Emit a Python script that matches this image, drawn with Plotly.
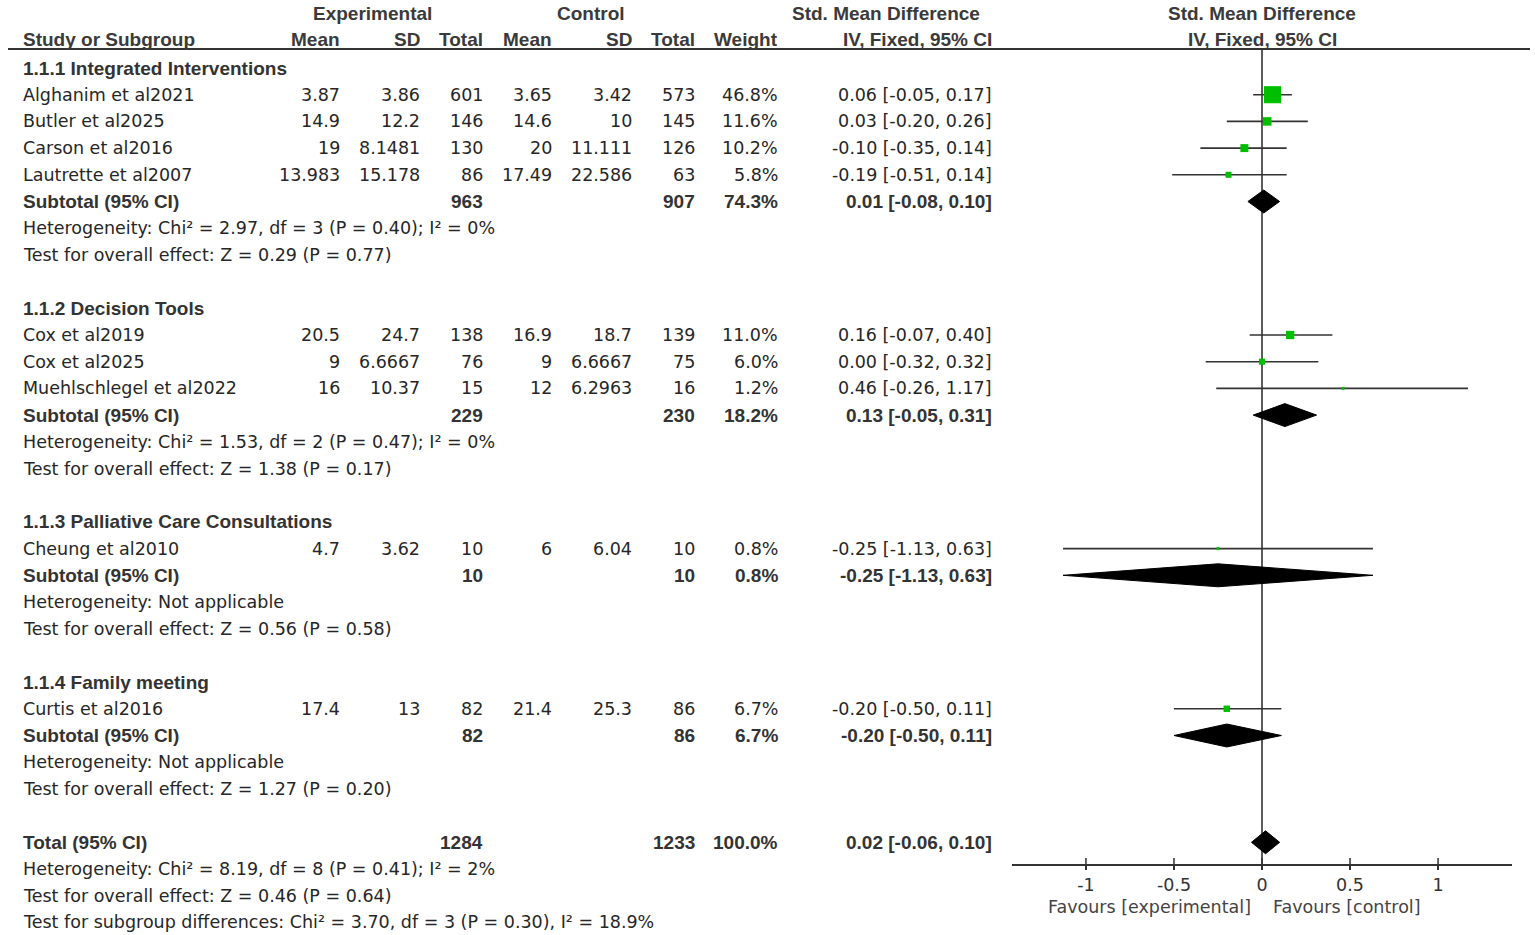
import math
import plotly.graph_objects as go

# ---------------- data ----------------
group_names = ["1.1.1 Integrated Interventions", "1.1.2 Decision Tools",
               "1.1.3 Palliative Care Consultations", "1.1.4 Family meeting"]
study_group = [0, 0, 0, 0, 1, 1, 1, 2, 3]
studies = ["Alghanim et al2021", "Butler et al2025", "Carson et al2016", "Lautrette et al2007",
           "Cox et al2019", "Cox et al2025", "Muehlschlegel et al2022",
           "Cheung et al2010", "Curtis et al2016"]
exp_mean = [3.87, 14.9, 19, 13.983, 20.5, 9, 16, 4.7, 17.4]
exp_sd = [3.86, 12.2, 8.1481, 15.178, 24.7, 6.6667, 10.37, 3.62, 13]
exp_n = [601, 146, 130, 86, 138, 76, 15, 10, 82]
ctl_mean = [3.65, 14.6, 20, 17.49, 16.9, 9, 12, 6, 21.4]
ctl_sd = [3.42, 10, 11.111, 22.586, 18.7, 6.6667, 6.2963, 6.04, 25.3]
ctl_n = [573, 145, 126, 63, 139, 75, 16, 10, 86]
weight = [46.8, 11.6, 10.2, 5.8, 11.0, 6.0, 1.2, 0.8, 6.7]
smd = [0.06, 0.03, -0.10, -0.19, 0.16, 0.00, 0.46, -0.25, -0.20]
ci_lo = [-0.05, -0.20, -0.35, -0.51, -0.07, -0.32, -0.26, -1.13, -0.50]
ci_hi = [0.17, 0.26, 0.14, 0.14, 0.40, 0.32, 1.17, 0.63, 0.11]

sub_exp_n = [963, 229, 10, 82]
sub_ctl_n = [907, 230, 10, 86]
sub_weight = [74.3, 18.2, 0.8, 6.7]
sub_smd = [0.01, 0.13, -0.25, -0.20]
sub_lo = [-0.08, -0.05, -1.13, -0.50]
sub_hi = [0.10, 0.31, 0.63, 0.11]
sub_het = ["Heterogeneity: Chi² = 2.97, df = 3 (P = 0.40); I² = 0%",
           "Heterogeneity: Chi² = 1.53, df = 2 (P = 0.47); I² = 0%",
           "Heterogeneity: Not applicable",
           "Heterogeneity: Not applicable"]
sub_test = ["Test for overall effect: Z = 0.29 (P = 0.77)",
            "Test for overall effect: Z = 1.38 (P = 0.17)",
            "Test for overall effect: Z = 0.56 (P = 0.58)",
            "Test for overall effect: Z = 1.27 (P = 0.20)"]

total_exp_n = 1284
total_ctl_n = 1233
total_weight = 100.0
total_smd = 0.02
total_lo = -0.06
total_hi = 0.10
total_notes = ["Heterogeneity: Chi² = 8.19, df = 8 (P = 0.41); I² = 2%",
               "Test for overall effect: Z = 0.46 (P = 0.64)",
               "Test for subgroup differences: Chi² = 3.70, df = 3 (P = 0.30), I² = 18.9%"]

tick_vals = [-1, -0.5, 0, 0.5, 1]
tick_text = ["-1", "-0.5", "0", "0.5", "1"]
favours_left = "Favours [experimental]"
favours_right = "Favours [control]"

# ---------------- layout constants ----------------
W, H = 1535, 935
ROW0_PX, PITCH = 68.0, 26.7          # pixel centre of row 0 and row pitch
AXIS_PX = 865.0                       # pixel y of the bottom axis line
HEADER_LINE_PX = 49.0
X_LEFT_PX, X_RIGHT_PX = 1012.0, 1512.0
XMIN, XMAX = -1.42, 1.42

def px_to_row(py):
    return (py - ROW0_PX) / PITCH

def pxx(px):
    return px / W

REG = dict(family="DejaVu Sans", size=17.5, color="#262626")
BOLD = dict(family="Liberation Sans", size=19, color="#333333", weight="bold")
BOLD_HDR = dict(family="Liberation Sans", size=19, color="#3a3a3a", weight="bold")

# column right edges (px)
C_NAME = 22
C_EMEAN, C_ESD, C_EN = 341, 421, 484
C_CMEAN, C_CSD, C_CN = 553, 633, 696
C_W, C_CI = 779, 993

annotations = []

def txt(x_px, row, text, font, anchor="right"):
    annotations.append(dict(x=pxx(x_px), xref="paper", y=row, yref="y", text=text,
                            showarrow=False, xanchor=anchor, yanchor="middle",
                            font=font, borderpad=0))

def ci_str(m, lo, hi):
    return f"{m:.2f} [{lo:.2f}, {hi:.2f}]"

# headers
txt(372.5, -2.05, "Experimental", BOLD_HDR, "center")
txt(590.5, -2.05, "Control", BOLD_HDR, "center")
txt(886, -2.05, "Std. Mean Difference", BOLD_HDR, "center")
txt(C_NAME, -1.05, "Study or Subgroup", BOLD_HDR, "left")
for xp, t in [(C_EMEAN, "Mean"), (C_ESD, "SD"), (C_EN, "Total"), (C_CMEAN, "Mean"),
              (C_CSD, "SD"), (C_CN, "Total"), (C_W, "Weight"), (C_CI, "IV, Fixed, 95% CI")]:
    txt(xp, -1.05, t, BOLD_HDR, "right")
annotations.append(dict(x=0, xref="x", y=-2.05, yref="y", text="Std. Mean Difference",
                        showarrow=False, xanchor="center", yanchor="middle", font=BOLD_HDR))
annotations.append(dict(x=0, xref="x", y=-1.05, yref="y", text="IV, Fixed, 95% CI",
                        showarrow=False, xanchor="center", yanchor="middle", font=BOLD_HDR))

# body rows
study_rows = []
sub_rows = []
row = 0
for g, gname in enumerate(group_names):
    txt(C_NAME, row, gname, BOLD, "left")
    row += 1
    for i, s in enumerate(studies):
        if study_group[i] != g:
            continue
        txt(C_NAME, row, s, REG, "left")
        txt(C_EMEAN, row, str(exp_mean[i]), REG)
        txt(C_ESD, row, str(exp_sd[i]), REG)
        txt(C_EN, row, str(exp_n[i]), REG)
        txt(C_CMEAN, row, str(ctl_mean[i]), REG)
        txt(C_CSD, row, str(ctl_sd[i]), REG)
        txt(C_CN, row, str(ctl_n[i]), REG)
        txt(C_W, row, f"{weight[i]:.1f}%", REG)
        txt(C_CI, row, ci_str(smd[i], ci_lo[i], ci_hi[i]), REG)
        study_rows.append(row)
        row += 1
    txt(C_NAME, row, "Subtotal (95% CI)", BOLD, "left")
    txt(C_EN, row, str(sub_exp_n[g]), BOLD)
    txt(C_CN, row, str(sub_ctl_n[g]), BOLD)
    txt(C_W, row, f"{sub_weight[g]:.1f}%", BOLD)
    txt(C_CI, row, ci_str(sub_smd[g], sub_lo[g], sub_hi[g]), BOLD)
    sub_rows.append(row)
    row += 1
    txt(C_NAME, row, sub_het[g], REG, "left"); row += 1
    txt(C_NAME, row, sub_test[g], REG, "left"); row += 1
    row += 1  # blank

total_row = row
txt(C_NAME, total_row, "Total (95% CI)", BOLD, "left")
txt(C_EN, total_row, str(total_exp_n), BOLD)
txt(C_CN, total_row, str(total_ctl_n), BOLD)
txt(C_W, total_row, f"{total_weight:.1f}%", BOLD)
txt(C_CI, total_row, ci_str(total_smd, total_lo, total_hi), BOLD)
for k, note in enumerate(total_notes):
    txt(C_NAME, total_row + 1 + k, note, REG, "left")

# favours labels
fav_font = dict(family="DejaVu Sans", size=17.5, color="#444444")
fav_y = 1 - 907 / H
annotations.append(dict(x=0, xref="x", y=fav_y, yref="paper", text=favours_left, showarrow=False,
                        xanchor="right", yanchor="middle", xshift=-9, font=fav_font))
annotations.append(dict(x=0, xref="x", y=fav_y, yref="paper", text=favours_right, showarrow=False,
                        xanchor="left", yanchor="middle", xshift=9, font=fav_font))

# ---------------- traces ----------------
fig = go.Figure()

# CI lines
lx, ly = [], []
for i, r in enumerate(study_rows):
    lx += [ci_lo[i], ci_hi[i], None]
    ly += [r, r, None]
fig.add_trace(go.Scatter(x=lx, y=ly, mode="lines", line=dict(color="#333333", width=1.6),
                         hoverinfo="skip", showlegend=False))

# squares
fig.add_trace(go.Scatter(x=smd, y=study_rows, mode="markers",
                         marker=dict(symbol="square", color="#00BF00", opacity=1,
                                     size=[max(3, 2.5 * math.sqrt(w)) for w in weight],
                                     line=dict(width=0)),
                         showlegend=False))

# diamonds
HALF = 0.43
dx, dy = [], []
for g, r in enumerate(sub_rows):
    dx += [sub_lo[g], sub_smd[g], sub_hi[g], sub_smd[g], sub_lo[g], None]
    dy += [r, r - HALF, r, r + HALF, r, None]
dx += [total_lo, total_smd, total_hi, total_smd, total_lo]
dy += [total_row, total_row - HALF, total_row, total_row + HALF, total_row]
fig.add_trace(go.Scatter(x=dx, y=dy, mode="lines", fill="toself", fillcolor="black",
                         line=dict(color="black", width=1), hoverinfo="skip", showlegend=False))

# ---------------- shapes ----------------
axis_pos = 1 - AXIS_PX / H
header_row = px_to_row(HEADER_LINE_PX)
shapes = [
    dict(type="line", xref="paper", yref="y", x0=pxx(8), x1=pxx(1530),
         y0=header_row, y1=header_row, line=dict(color="#333333", width=2)),
    dict(type="line", xref="x", yref="y", x0=0, x1=0, y0=header_row,
         y1=px_to_row(AXIS_PX), line=dict(color="#333333", width=1.6), layer="below"),
]
for tv in tick_vals:
    shapes.append(dict(type="line", xref="x", yref="paper", x0=tv, x1=tv,
                       y0=axis_pos, y1=axis_pos + 7 / H, line=dict(color="#333333", width=1.5)))

fig.update_layout(
    width=W, height=H, margin=dict(l=0, r=0, t=0, b=0),
    paper_bgcolor="white", plot_bgcolor="white",
    showlegend=False, annotations=annotations, shapes=shapes,
    xaxis=dict(domain=[X_LEFT_PX / W, X_RIGHT_PX / W], range=[XMIN, XMAX],
               anchor="free", position=axis_pos,
               showgrid=False, zeroline=False, showline=True, linecolor="#333333", linewidth=1.5,
               ticks="outside", ticklen=4, tickwidth=1.5, tickcolor="#333333",
               tickvals=tick_vals, ticktext=tick_text,
               tickfont=dict(family="DejaVu Sans", size=17.5, color="#333333")),
    yaxis=dict(domain=[0, 1], range=[px_to_row(H), px_to_row(0)], visible=False,
               showgrid=False, zeroline=False),
)

fig.write_html("out.html", config={"displayModeBar": False},
               post_script="document.body.style.margin='0px';document.body.style.overflow='hidden';")
